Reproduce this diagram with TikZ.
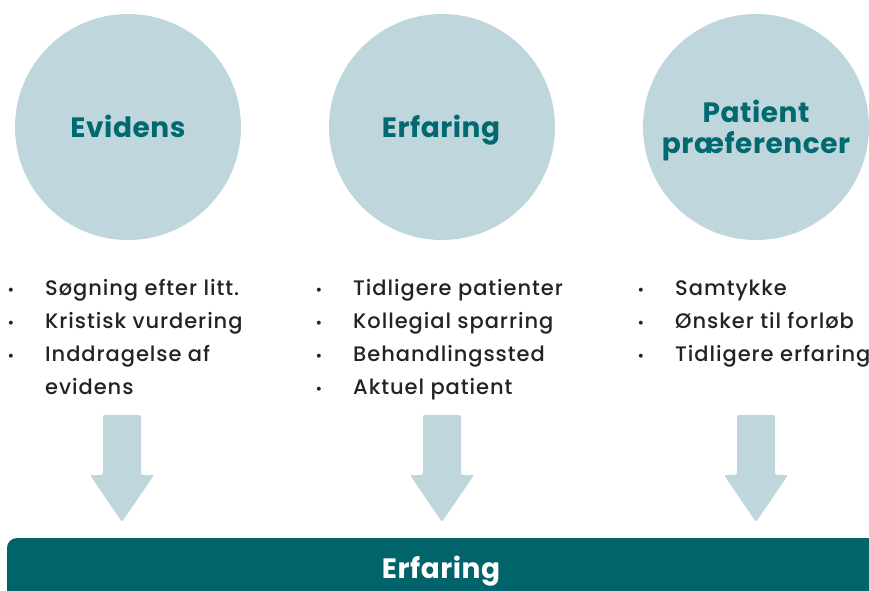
\documentclass[tikz,border=0pt]{standalone}
\usepackage{fontspec}
\setmainfont{Poppins}
\newfontfamily\itemfont[LetterSpace=4.5]{Poppins Medium}
\usetikzlibrary{positioning}

\definecolor{disc}{HTML}{BFD6DC}
\definecolor{tealtext}{HTML}{006A70}
\definecolor{tealbar}{HTML}{00646A}
\definecolor{bodytext}{HTML}{232323}

\tikzset{
  pillar/.style={circle, fill=disc, minimum size=226pt, inner sep=0pt},
  heading/.style={anchor=base, inner sep=0pt, font=\bfseries\fontsize{28}{31}\selectfont\addfontfeatures{LetterSpace=2}, text=tealtext, align=center},
  item/.style={anchor=base west, inner sep=0pt, font=\itemfont\fontsize{21}{33}\selectfont, text=bodytext, align=left},
  dot/.style={anchor=base, inner sep=0pt, font=\fontsize{16}{33}\selectfont, text=bodytext},
  downarrow/.style={fill=disc, rounded corners=2pt},
}

\begin{document}
\begin{tikzpicture}[x=1pt,y=-1pt]
    \useasboundingbox (0,0) rectangle (869,590);

    % the three pillars
    \node[pillar] (evid) at (128,127) {};
    \node[pillar] (erf)  at (442,127) {};
    \node[pillar] (pat)  at (756,127) {};
    \node[heading] (evidT) at (128,137) {Evidens};
    \node[heading] (erfT)  at (441,137) {Erfaring};
    \node[heading] (patT)  at (756,122) {Patient};
    \node[heading] (patT2) at (756,153) {præferencer};

    % bullet lists
    \foreach \x/\y/\txt [count=\i] in {
        11/295/Søgning efter litt.,
        11/328/Kristisk vurdering,
        11/361/Inddragelse af,
        319/295/Tidligere patienter,
        319/328/Kollegial sparring,
        319/361/Behandlingssted,
        319/394/Aktuel patient,
        641/295/Samtykke,
        641/328/Ønsker til forløb,
        641/361/Tidligere erfaring}
    {
        \node[dot] (b\i) at (\x,\y) {•};
        \node[item] (t\i) at (\x+34,\y) {\txt};
    }
    \node[item] (t3b) at (45,394) {evidens};

    % arrows down to the bar
    \foreach \x [count=\i] in {122,442,756} {
        \coordinate (a\i) at (\x,415);
        \fill[downarrow] (\x-19,415) -- (\x+19,415) -- (\x+19,475) -- (\x+32,475)
            -- (\x,522) -- (\x-32,475) -- (\x-19,475) -- cycle;
    }

    % bottom bar
    \fill[tealbar, rounded corners=10pt] (7,538) rectangle (900,620);
    \node[heading, text=white] (res) at (441,578) {Erfaring};
\end{tikzpicture}
\end{document}
